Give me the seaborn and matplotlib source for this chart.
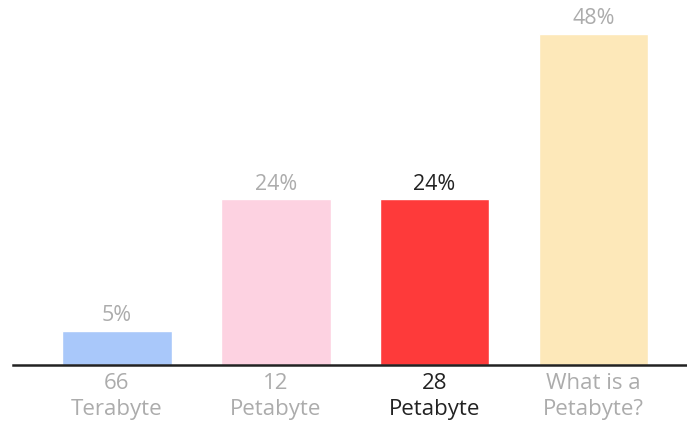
import matplotlib
matplotlib.use("Agg")
import matplotlib.pyplot as plt
import seaborn as sns
import pandas as pd

categories = ["66\nTerabyte", "12\nPetabyte", "28\nPetabyte", "What is a\nPetabyte?"]
shares = [5, 24, 24, 48]
bar_colors = ["#a9c8fa", "#fdd2e1", "#fe3a3a", "#fde8b9"]
text_colors = ["#acacac", "#acacac", "#222222", "#acacac"]

sns.set_theme(style="white")
plt.rcParams["font.family"] = ["Open Sans", "DejaVu Sans"]

df = pd.DataFrame({"category": categories, "share": shares})

fig = plt.figure(figsize=(6.87, 4.23), dpi=100)
ax = fig.add_axes([13 / 687, 1 - 365 / 423, 1 - 13 / 687, 365 / 423])

sns.barplot(data=df, x="category", y="share", hue="category",
            palette=bar_colors, width=0.69, legend=False, ax=ax,
            saturation=1)

for i, (v, c) in enumerate(zip(shares, text_colors)):
    ax.text(i, v + 2.2, f"{v}%", ha="center", va="center",
            fontsize=15.5, color=c)

ax.set_xlim(-0.655, 3.59)
ax.set_ylim(0, 48 * 365 / 331)
ax.set_xlabel("")
ax.set_ylabel("")
ax.set_yticks([])
ax.tick_params(axis="x", length=0, pad=6, labelsize=16)
for lbl, c in zip(ax.get_xticklabels(), text_colors):
    lbl.set_color(c)
    lbl.set_linespacing(1.32)

for side in ["top", "right", "left"]:
    ax.spines[side].set_visible(False)
ax.spines["bottom"].set_color("#222222")
ax.spines["bottom"].set_linewidth(1.8)

fig.savefig("out.png", dpi=100)
